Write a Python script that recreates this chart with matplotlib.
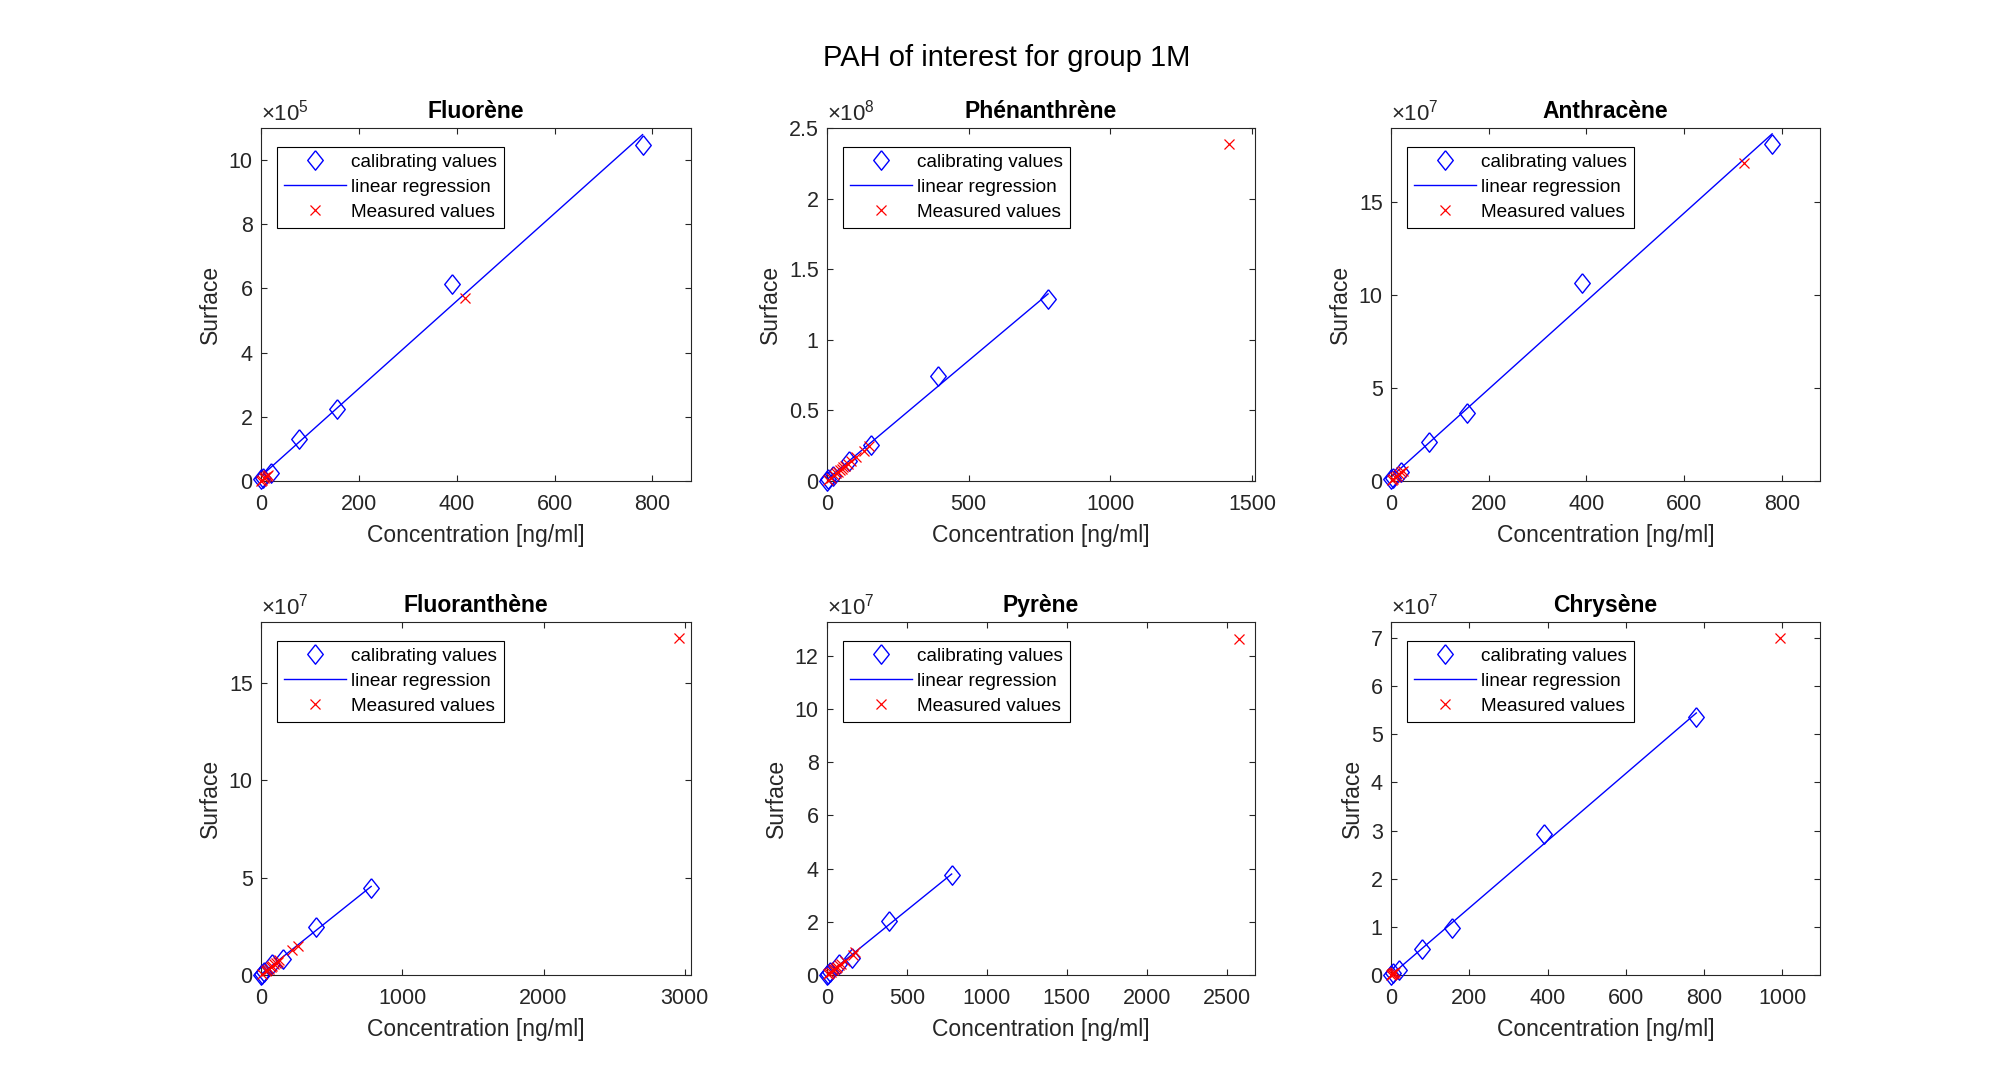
import numpy as np
import matplotlib
matplotlib.use('Agg')
import matplotlib.pyplot as plt
from matplotlib.ticker import FuncFormatter, MultipleLocator

plt.rcParams['font.family'] = ['Liberation Sans', 'DejaVu Sans']
plt.rcParams['mathtext.fontset'] = 'custom'
plt.rcParams['mathtext.rm'] = 'Liberation Sans'
plt.rcParams['mathtext.it'] = 'Liberation Sans:italic'

# --- données ---
compounds = ['Fluorène', 'Phénanthrène', 'Anthracène',
             'Fluoranthène', 'Pyrène', 'Chrysène']

conc_calib = [0.78, 3.9, 19.5, 78, 156, 390, 780]

surf_fluorene = [0.05e5, 0.10e5, 0.26e5, 1.30e5, 2.23e5, 6.13e5, 10.47e5]
surf_phenanthrene = [0.002e8, 0.012e8, 0.035e8, 0.142e8, 0.256e8, 0.746e8, 1.29e8]
surf_anthracene = [0.09e7, 0.18e7, 0.49e7, 2.11e7, 3.66e7, 10.66e7, 18.13e7]
surf_fluoranthene = [0.01e7, 0.03e7, 0.15e7, 0.55e7, 0.81e7, 2.49e7, 4.47e7]
surf_pyrene = [0.01e7, 0.03e7, 0.12e7, 0.40e7, 0.65e7, 2.03e7, 3.75e7]
surf_chrysene = [0.005e7, 0.05e7, 0.10e7, 0.53e7, 0.97e7, 2.93e7, 5.36e7]

meas_conc_fluorene = [1, 3, 6, 9, 12, 15, 418]
meas_surf_fluorene = [0.01e5, 0.04e5, 0.08e5, 0.12e5, 0.16e5, 0.20e5, 5.70e5]

meas_conc_phenanthrene = [4, 14, 26, 33, 39, 45, 52, 58, 64, 73, 86, 102, 130, 149, 1418]
meas_surf_phenanthrene = [0.007e8, 0.023e8, 0.043e8, 0.055e8, 0.065e8, 0.075e8, 0.086e8,
                          0.096e8, 0.106e8, 0.121e8, 0.143e8, 0.170e8, 0.216e8, 0.247e8, 2.386e8]

meas_conc_anthracene = [2, 5, 8, 12, 16, 20, 24, 723]
meas_surf_anthracene = [0.05e7, 0.12e7, 0.19e7, 0.28e7, 0.38e7, 0.47e7, 0.56e7, 17.14e7]

meas_conc_fluoranthene = [7, 32, 44, 56, 69, 81, 93, 105, 118, 130, 222, 259, 2958]
meas_surf_fluoranthene = [0.04e7, 0.18e7, 0.25e7, 0.32e7, 0.40e7, 0.47e7, 0.54e7,
                          0.60e7, 0.68e7, 0.75e7, 1.28e7, 1.49e7, 17.30e7]

meas_conc_pyrene = [5, 15, 25, 35, 45, 55, 65, 75, 90, 110, 160, 178, 2580]
meas_surf_pyrene = [0.02e7, 0.07e7, 0.12e7, 0.17e7, 0.22e7, 0.27e7, 0.31e7,
                    0.36e7, 0.43e7, 0.53e7, 0.77e7, 0.86e7, 12.64e7]

meas_conc_chrysene = [1, 2, 3, 5, 7, 9, 994]
meas_surf_chrysene = [0.007e7, 0.014e7, 0.020e7, 0.035e7, 0.050e7, 0.060e7, 6.99e7]

calib_surfaces = [surf_fluorene, surf_phenanthrene, surf_anthracene,
                  surf_fluoranthene, surf_pyrene, surf_chrysene]
meas_concs = [meas_conc_fluorene, meas_conc_phenanthrene, meas_conc_anthracene,
              meas_conc_fluoranthene, meas_conc_pyrene, meas_conc_chrysene]
meas_surfs = [meas_surf_fluorene, meas_surf_phenanthrene, meas_surf_anthracene,
              meas_surf_fluoranthene, meas_surf_pyrene, meas_surf_chrysene]

# limites et graduations des axes
x_max = [879, 1510, 878, 3044, 2678, 1096]
y_max = [1.1e6, 2.5e8, 1.9e8, 1.813e8, 1.326e8, 7.33e7]
x_step = [200, 500, 200, 1000, 500, 200]
y_step = [2e5, 0.5e8, 5e7, 5e7, 2e7, 1e7]
exposants = [5, 8, 7, 7, 7, 7]

# --- mise en page (pixels sur une image 2013x1092) ---
W, H = 2013, 1092
col_px = [(261, 691), (827, 1255), (1391, 1820)]
row_px = [(128, 481), (622, 975)]

GRIS = '#262626'
losange = [(0, 1), (0.8, 0), (0, -1), (-0.8, 0), (0, 1)]

fig = plt.figure(figsize=(W / 100, H / 100), dpi=100)
fig.text(1007 / W, 1 - 58 / H, 'PAH of interest for group 1M',
         ha='center', va='center', fontsize=21, color='black')

for i, nom in enumerate(compounds):
    r, c = divmod(i, 3)
    x0, x1 = col_px[c]
    y0, y1 = row_px[r]
    ax = fig.add_axes([x0 / W, 1 - y1 / H, (x1 - x0) / W, (y1 - y0) / H])

    xc = np.array(conc_calib, dtype=float)
    yc = np.array(calib_surfaces[i], dtype=float)
    a, b = np.polyfit(xc, yc, 1)

    ax.plot(xc, yc, linestyle='none', marker=losange, markersize=14,
            markerfacecolor='none', markeredgecolor='blue', markeredgewidth=1.0,
            clip_on=False, label='calibrating values', zorder=3)
    ax.plot(xc, a * xc + b, color='blue', linewidth=1.0, label='linear regression', zorder=2)
    ax.plot(meas_concs[i], meas_surfs[i], linestyle='none', marker='x', markersize=7.5,
            markeredgecolor='red', markeredgewidth=0.9, clip_on=False,
            label='Measured values', zorder=4)

    ax.set_xlim(0, x_max[i])
    ax.set_ylim(0, y_max[i])
    ax.xaxis.set_major_locator(MultipleLocator(x_step[i]))
    ax.yaxis.set_major_locator(MultipleLocator(y_step[i]))
    e = exposants[i]
    ax.yaxis.set_major_formatter(FuncFormatter(lambda v, p, e=e: '%g' % round(v / 10 ** e, 6)))
    ax.xaxis.set_major_formatter(FuncFormatter(lambda v, p: '%g' % v))
    ax.text(0.0, 1.006, r'$\times10^{%d}$' % e, transform=ax.transAxes,
            ha='left', va='bottom', fontsize=16, color=GRIS)

    ax.tick_params(direction='in', top=True, right=True, length=4, width=0.8,
                   labelsize=15.5, colors=GRIS, pad=6)
    ax.tick_params(axis='x', pad=9)
    for s in ax.spines.values():
        s.set_color(GRIS)
        s.set_linewidth(0.8)

    ax.set_title(nom, fontsize=16.5, fontweight='bold', color='black', pad=7)
    ax.set_xlabel('Concentration [ng/ml]', fontsize=16.5, color=GRIS, labelpad=6.5)
    ax.set_ylabel('Surface', fontsize=16.5, color=GRIS, labelpad=5)

    w_ax, h_ax = x1 - x0, y1 - y0
    leg = ax.legend(loc='upper left', bbox_to_anchor=(16 / w_ax, 1 - 19 / h_ax),
                    borderaxespad=0, fontsize=13.7, fancybox=False, framealpha=1,
                    edgecolor='black', handlelength=3.25, labelspacing=0.4,
                    borderpad=0.35, handletextpad=0.3)
    leg.get_frame().set_linewidth(0.8)

fig.savefig('out.png', dpi=100, facecolor='white')
